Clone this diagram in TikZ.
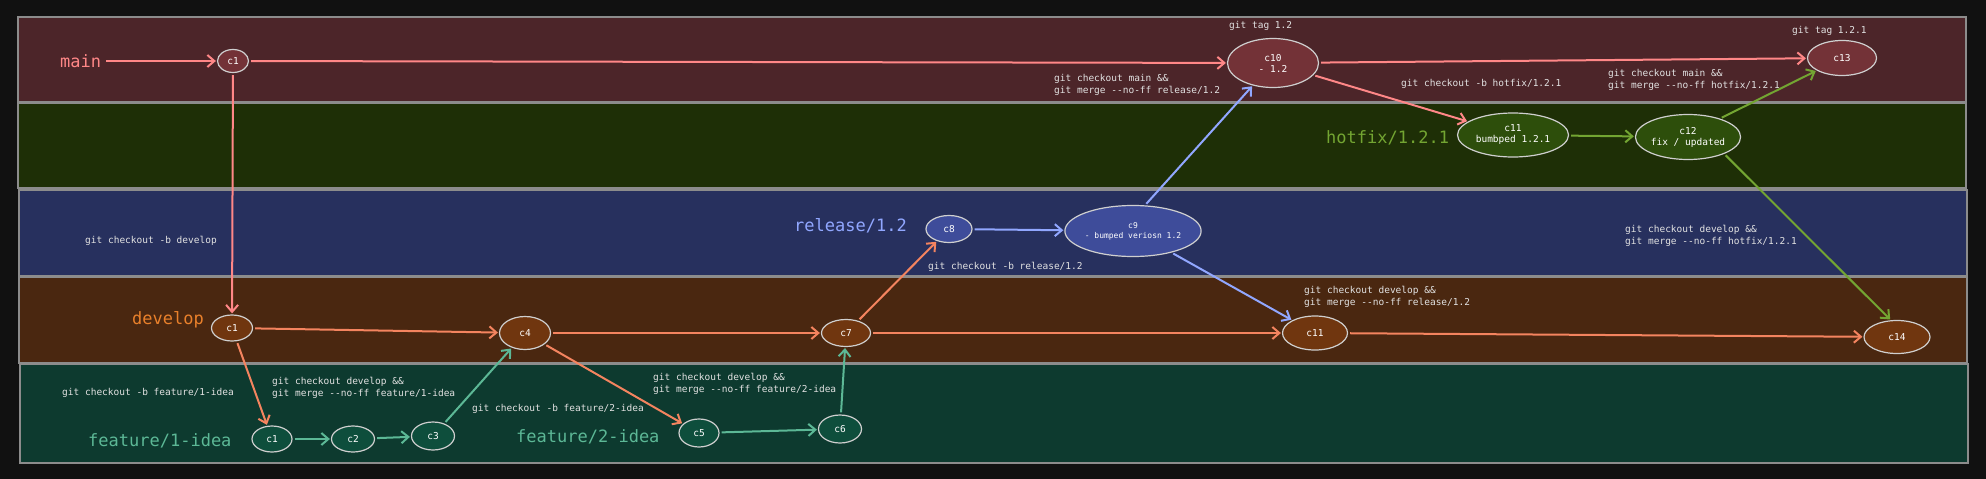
\documentclass[tikz,border=0pt]{standalone}
\usepackage{fontspec}
\setmonofont{DejaVu Sans Mono}
\usetikzlibrary{shapes.geometric, arrows.meta, positioning}

\definecolor{bgdark}{HTML}{111111}
\definecolor{lanebord}{HTML}{8C8C8C}
\definecolor{mainlane}{HTML}{4C2529}
\definecolor{hotlane}{HTML}{1E2F06}
\definecolor{rellane}{HTML}{27305E}
\definecolor{devlane}{HTML}{4A2710}
\definecolor{featlane}{HTML}{0D3A2F}
\definecolor{mainnode}{HTML}{733237}
\definecolor{hotnode}{HTML}{2D4E0B}
\definecolor{relnode}{HTML}{3E4C9A}
\definecolor{devnode}{HTML}{70360F}
\definecolor{featnode}{HTML}{0E4E3C}
\definecolor{nodeline}{HTML}{CFCFCF}
\definecolor{mainline}{HTML}{FF8787}
\definecolor{hotline}{HTML}{73A532}
\definecolor{relline}{HTML}{91A7FF}
\definecolor{devline}{HTML}{F4845F}
\definecolor{devtext}{HTML}{E9802B}
\definecolor{featline}{HTML}{5CB896}
\definecolor{cmdtext}{HTML}{E2E2E2}

\begin{document}
\begin{tikzpicture}[
    x=1pt, y=-1pt,
    commit/.style={ellipse, draw=nodeline, line width=1.2pt, text=white, align=center, inner sep=0pt, font=\ttfamily\fontsize{9.5}{11}\selectfont},
    mainc/.style={commit, fill=mainnode},
    hotc/.style={commit, fill=hotnode},
    relc/.style={commit, fill=relnode},
    devc/.style={commit, fill=devnode},
    featc/.style={commit, fill=featnode},
    cmd/.style={anchor=west, align=left, inner sep=0pt, text=cmdtext, font=\ttfamily\fontsize{9.5}{12}\selectfont},
    branch/.style={anchor=west, inner sep=0pt, font=\ttfamily\fontsize{17}{20}\selectfont},
    arrow/.style={-{Straight Barb[length=7pt,width=12pt]}, line width=2pt, shorten >=1pt, shorten <=2pt}
  ]
    \useasboundingbox (0,0) rectangle (1986,479);
    \fill[bgdark] (0,0) rectangle (1986,479);

    % lanes
    \foreach \ya/\yb/\xa/\xb/\col in {17/102/18/1966/mainlane, 103/188/18/1966/hotlane, 190/276/19/1967/rellane, 277/363/19/1967/devlane, 364/463/20/1968/featlane}
      \draw[fill=\col, draw=lanebord, line width=1.5pt] (\xa,\ya) rectangle (\xb,\yb);

    % branch names
    \node[branch, text=mainline] (mainlbl) at (60,61) {main};
    \node[branch, text=hotline] (hotlbl) at (1326,138) {hotfix/1.2.1};
    \node[branch, text=relline] (rellbl) at (794,226) {release/1.2};
    \node[branch, text=devtext] (devlbl) at (132,320) {develop};
    \node[branch, text=featline] (feat1lbl) at (88,441) {feature/1-idea};
    \node[branch, text=featline] (feat2lbl) at (516,437) {feature/2-idea};

    % commits
    \node[mainc, minimum width=31, minimum height=23] (m1) at (233,61) {c1};
    \node[mainc, minimum width=91, minimum height=49] (m10) at (1273,63) {c10\\- 1.2};
    \node[mainc, minimum width=69, minimum height=35] (m13) at (1842,58) {c13};
    \node[hotc, minimum width=111, minimum height=44] (h11) at (1513,135) {c11\\bumbped 1.2.1};
    \node[hotc, minimum width=99, minimum height=45] (h12) at (1688,137) {c12\\fix / updated};
    \node[relc, minimum width=46, minimum height=27] (r8) at (949,229) {c8};
    \node[relc, minimum width=125, minimum height=51, font=\ttfamily\fontsize{8}{10}\selectfont] (r9) at (1133,231) {c9\\- bumped veriosn 1.2};
    \node[devc, minimum width=41, minimum height=26] (d1) at (232,328) {c1};
    \node[devc, minimum width=51, minimum height=33] (d4) at (525,333) {c4};
    \node[devc, minimum width=49, minimum height=27] (d7) at (846,333) {c7};
    \node[devc, minimum width=65, minimum height=34] (d11) at (1315,333) {c11};
    \node[devc, minimum width=66, minimum height=33] (d14) at (1897,337) {c14};
    \node[featc, minimum width=40, minimum height=26] (f1) at (272,439) {c1};
    \node[featc, minimum width=43, minimum height=26] (f2) at (353,439) {c2};
    \node[featc, minimum width=43, minimum height=28] (f3) at (433,436) {c3};
    \node[featc, minimum width=40, minimum height=28] (f5) at (699,433) {c5};
    \node[featc, minimum width=43, minimum height=28] (f6) at (840,429) {c6};

    % commands
    \node[cmd] (tag12) at (1229,26) {git tag 1.2};
    \node[cmd] (tag121) at (1792,31) {git tag 1.2.1};
    \node[cmd] (mrgrel) at (1054,85) {git checkout main \&\&\\git merge --no-ff release/1.2};
    \node[cmd] (cohot) at (1401,84) {git checkout -b hotfix/1.2.1};
    \node[cmd] (mrghot) at (1608,79.5) {git checkout main \&\&\\git merge --no-ff hotfix/1.2.1};
    \node[cmd] (corel) at (928,267) {git checkout -b release/1.2};
    \node[cmd] (codev) at (85,241) {git checkout -b develop};
    \node[cmd] (devrel) at (1304,297) {git checkout develop \&\&\\git merge --no-ff release/1.2};
    \node[cmd] (devhot) at (1625,236) {git checkout develop \&\&\\git merge --no-ff hotfix/1.2.1};
    \node[cmd] (cofeat1) at (62,393) {git checkout -b feature/1-idea};
    \node[cmd] (mrgfeat1) at (272,388) {git checkout develop \&\&\\git merge --no-ff feature/1-idea};
    \node[cmd] (cofeat2) at (472,409) {git checkout -b feature/2-idea};
    \node[cmd] (mrgfeat2) at (653,384) {git checkout develop \&\&\\git merge --no-ff feature/2-idea};

    % main
    \draw[arrow, mainline, shorten <=5pt] (mainlbl) -- (m1);
    \draw[arrow, mainline] (m1) -- (m10);
    \draw[arrow, mainline] (m10) -- (m13);
    \draw[arrow, mainline] (m10) -- (h11);
    \draw[arrow, mainline] (m1) -- (d1);
    % hotfix
    \draw[arrow, hotline] (h11) -- (h12);
    \draw[arrow, hotline] (h12.30) -- (m13);
    \draw[arrow, hotline] (h12.-25) -- (d14.110);
    % release
    \draw[arrow, relline] (r8) -- (r9);
    \draw[arrow, relline] (r9.65) -- (m10);
    \draw[arrow, relline] (r9) -- (d11);
    % develop
    \draw[arrow, devline] (d1) -- (d4);
    \draw[arrow, devline] (d4) -- (d7);
    \draw[arrow, devline] (d7) -- (d11);
    \draw[arrow, devline] (d11) -- (d14);
    \draw[arrow, devline] (d7) -- (r8);
    \draw[arrow, devline] (d1) -- (f1);
    \draw[arrow, devline] (d4) -- (f5);
    % features
    \draw[arrow, featline] (f1) -- (f2);
    \draw[arrow, featline] (f2) -- (f3);
    \draw[arrow, featline] (f3) -- (d4);
    \draw[arrow, featline] (f5) -- (f6);
    \draw[arrow, featline] (f6) -- (d7);
  \end{tikzpicture}
\end{document}
